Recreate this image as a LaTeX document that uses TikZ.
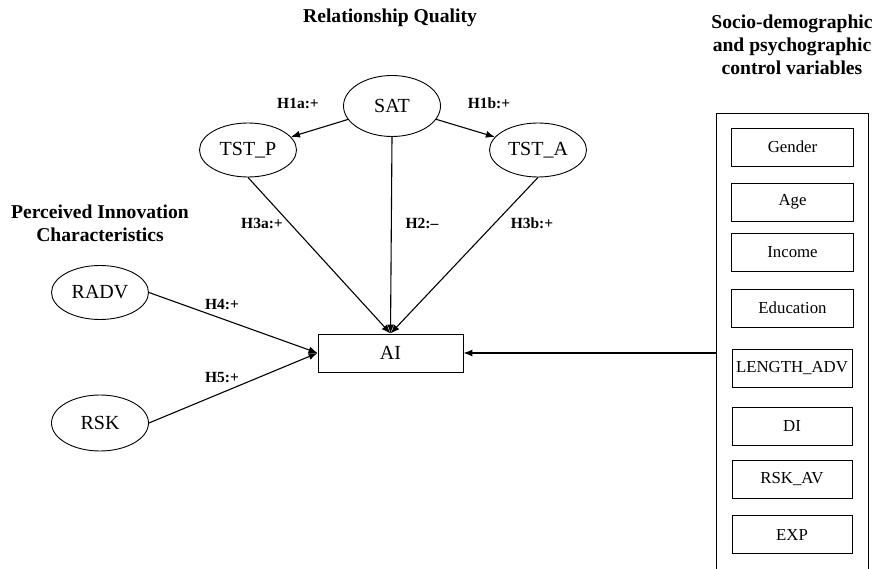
\documentclass[tikz,border=0pt]{standalone}
\usepackage{fontspec}
\setmainfont{Liberation Serif}
\usetikzlibrary{shapes.geometric,arrows.meta}
\begin{document}
\begin{tikzpicture}[x=1pt,y=-1pt,
  latent/.style={ellipse,draw,line width=0.9pt,inner sep=0pt,minimum width=97pt,minimum height=54pt,font=\fontsize{20}{24}\selectfont},
  obs/.style={rectangle,draw,line width=0.9pt,inner sep=0pt,font=\fontsize{20}{24}\selectfont},
  ctrl/.style={rectangle,draw,line width=0.8pt,inner sep=0pt,minimum width=122pt,minimum height=38pt,font=\fontsize{16.8}{20}\selectfont},
  title/.style={align=center,font=\fontsize{19.6}{22.8}\selectfont\bfseries},
  hlab/.style={font=\fontsize{15.5}{18}\selectfont\bfseries,inner sep=0pt},
  arr/.style={line width=1.1pt,-{Latex[length=9pt,width=7pt]}}]
\useasboundingbox (0,0) rectangle (881,569);
% titles
\node[title] (tRQ) at (390,18) {Relationship Quality};
\node[title] (tPI) at (100,223.5) {Perceived Innovation\\Characteristics};
\node[title] (tSD) at (792,44.5) {Socio-demographic\\and psychographic\\control variables};
% latent nodes
\node[latent,minimum width=97pt,minimum height=61pt] (SAT) at (392,106) {SAT};
\node[latent] (TSTP) at (248,150) {TST\_P};
\node[latent] (TSTA) at (538,150) {TST\_A};
\node[latent] (RADV) at (100,292.5) {RADV};
\node[latent,minimum height=56pt] (RSK) at (100,423) {RSK};
\node[obs,minimum width=145pt,minimum height=38pt] (AI) at (390.5,353) {AI};
% control panel
\coordinate (pbl) at (716,570);
\coordinate (ptl) at (716,113);
\coordinate (ptr) at (868,113);
\coordinate (pbr) at (868,570);
\coordinate (pin) at (716,353);
\draw[line width=0.9pt] (pbl) -- (ptl) -- (ptr) -- (pbr);
\node[ctrl] (c1) at (792.5,147) {Gender};
\node[ctrl] (c2) at (792.5,202) {Age};
\node[ctrl] (c3) at (792.5,252) {Income};
\node[ctrl] (c4) at (792.5,308) {Education};
\node[ctrl,minimum width=120pt] (c5) at (792,368) {LENGTH\_ADV};
\node[ctrl,minimum width=120pt] (c6) at (792,426) {DI};
\node[ctrl,minimum width=120pt] (c7) at (792,479.5) {RSK\_AV};
\node[ctrl,minimum width=120pt] (c8) at (792,534.5) {EXP};
% arrows
\draw[arr] (SAT) -- (TSTP);
\draw[arr] (SAT) -- (TSTA);
\draw[arr] (SAT.south) -- (AI.north);
\draw[arr] (TSTP.south) -- (AI.north);
\draw[arr] (TSTA.south) -- (AI.north);
\draw[arr] (RADV.east) -- (AI.west);
\draw[arr] (RSK.east) -- (AI.west);
\draw[arr] (pin) -- (AI.east);
% labels
\node[hlab] (l1) at (298,103) {H1a:+};
\node[hlab] (l2) at (489,103) {H1b:+};
\node[hlab] (l3) at (262,223) {H3a:+};
\node[hlab] (l4) at (422,223) {H2:--};
\node[hlab] (l5) at (532,223) {H3b:+};
\node[hlab] (l6) at (222,305) {H4:+};
\node[hlab] (l7) at (222,378) {H5:+};
\end{tikzpicture}
\end{document}
